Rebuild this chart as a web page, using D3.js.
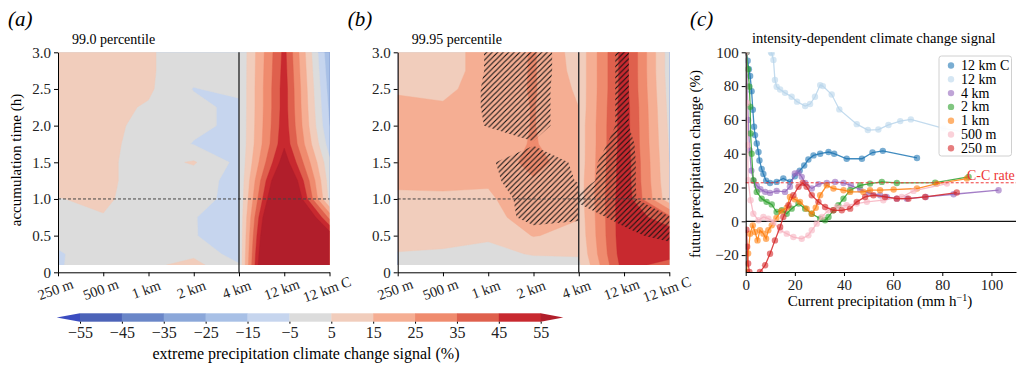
<!DOCTYPE html>
<html>
<head>
<meta charset="utf-8">
<script src="https://cdn.jsdelivr.net/npm/d3@7"></script>
<style>
  body { margin: 0; background: #fff; }
</style>
</head>
<body>
<svg id="fig" width="1029" height="365"></svg>
<script>
// ---------------------------------------------------------------
// data
// ---------------------------------------------------------------
var resolutions = ["250 m", "500 m", "1 km", "2 km", "4 km", "12 km", "12 km C"];
var accTimes = [0.1, 0.25, 0.5, 0.75, 1.0, 1.25, 1.5, 1.75, 2.0, 2.25, 2.5, 2.75, 3.0];
var timeTicks = [0, 0.5, 1.0, 1.5, 2.0, 2.5, 3.0];
var levels = [-55, -45, -35, -25, -15, -5, 5, 15, 25, 35, 45, 55];
var levelColors = ["#3b4cc0", "#4c63b8", "#6a86c8", "#8ba7d9", "#a8c0e6", "#c6d5ee", "#dcdcdc",
                   "#f1cdbc", "#f5ae93", "#ef8b6e", "#df604d", "#c8292f", "#b11e2b"];

// rows: accumulation time 0.1 -> 3.0, columns 250 m .. 4 km
var signalA_left = [
  [-6, 1, 3, 8, -4],
  [-6, 0, 2, 3, -10],
  [-2, 2, 1, -4.3, -12],
  [3, 4.7, 1, -4.5, -11],
  [4.8, 6, 2, 0, -10],
  [7, 7, 1, 0, -9],
  [8, 7, 1, 6, -8],
  [8, 7, 2, -5.5, -7],
  [8, 8, 2, -3, -7],
  [8, 8, 4, -2, -8],
  [8, 8, 6.5, -5.5, -2],
  [8, 8, 6, 0, 0],
  [8, 8, 6, 0, 0]
];
// columns 4 km, 12 km, 12 km C
var signalA_right = [
  [-4, 135, 70],
  [-4, 130, 68],
  [-4, 120, 62],
  [-4, 108, 32],
  [-4, 90, 2],
  [-4, 78, 0],
  [-4, 62, -3],
  [-4, 53, -10],
  [-4, 51, -15],
  [-4, 50, -17],
  [-4, 50, -19],
  [-4, 49, -21],
  [-4, 48, -23]
];
var signalB_left = [
  [2, 2, 2, 2, 2],
  [4.6, 4, 3, 5.5, 6],
  [8, 7.5, 6, 15.5, 12],
  [11, 11, 10, 22, 15.5],
  [13, 13.5, 13, 24, 17],
  [17, 17, 16.5, 24, 18],
  [19, 19, 17, 29, 18],
  [19, 19, 19, 26, 17],
  [19, 19, 19, 25.5, 16],
  [17, 16, 19, 25.5, 15],
  [14, 13, 19, 26, 13],
  [12, 12, 18, 26, 11],
  [11, 12, 18, 26, 10]
];
var signalB_right = [
  [3, 50, 40],
  [6, 52, 50],
  [8, 53, 52],
  [9, 53, 38],
  [10, 53, 8],
  [10, 52, 6],
  [9, 52, 5],
  [9, 51, 4],
  [9, 51, 3],
  [8, 51, 2],
  [8, 50, 1],
  [8, 50, 0],
  [8, 50, 0]
];
// significance (hatched where > 0.5), panel b only
var signifB_left = [
  [0, 0, 0, 0, 0],
  [0, 0, 0, 0, 0],
  [0, 0, 0, 0.1, 0.1],
  [0, 0, 0, 0.8, 0.6],
  [0, 0, 0, 0.9, 0.8],
  [0, 0, 0.3, 1, 0.45],
  [0, 0, 0.4, 1, 0.35],
  [0, 0, 0, 0.45, 0],
  [0, 0, 0.55, 0.8, 0],
  [0, 0, 0.6, 0.8, 0],
  [0, 0, 0.6, 0.8, 0],
  [0, 0, 0.55, 0.85, 0],
  [0, 0, 0.55, 0.85, 0]
];
var signifB_right = [
  [0, 0, 0],
  [0, 0, 0],
  [0, 0.3, 0.75],
  [0.2, 0.7, 0.55],
  [0.6, 0.8, -0.3],
  [0.3, 0.85, -0.5],
  [0.25, 0.85, -0.5],
  [0, 0.8, -0.5],
  [0, 0.62, -0.5],
  [0, 0.62, -0.5],
  [0, 0.62, -0.5],
  [0, 0.62, -0.5],
  [0, 0.62, -0.5]
];

// panel c: [current precipitation, future change %]
var names = ["12 km C", "12 km", "4 km", "2 km", "1 km", "500 m", "250 m"];
var seriesColors = ["#1f77b4", "#b9d5eb", "#9467bd", "#2ca02c", "#ff7f0e", "#f7b3c0", "#d62728"];
var s12kmC = [[0.3,100],[0.8,95],[1.3,90],[1.8,86],[2.4,77],[2.9,66],[3.4,56],[3.8,51],[4.5,46],[5.2,41],[5.6,36],[6.5,31],[7.2,28],[8.3,24],[9.9,22.7],[12.6,23.3],[15.3,25.3],[18,23.3],[20,26.7],[22,30],[23.8,33],[25.5,36.6],[27.6,39],[30.3,40],[33.7,41],[36,40],[41.1,37],[47.3,37],[51.6,40.7],[55.8,41.7],[69.7,37.5]];
var s12km = [[10.3,100],[10.6,99.4],[11.3,95.5],[11.9,83.6],[12.6,79.6],[14,78],[16,76],[18.7,73.7],[20.9,70.8],[24.2,68.2],[26.2,69.4],[28.2,73.7],[30.3,80.6],[31.4,80],[35,75],[38.1,66.2],[45.2,57.5],[49.7,54],[54,54.3],[58.1,57],[62.9,59.3],[67.2,60.3],[80.5,55],[92,52]];
var s4km = [[0.3,100],[0.6,80],[1,60],[1.6,42],[2.3,30],[3.2,24],[4.5,21],[6,19],[7.9,17.4],[9.9,16.8],[12.6,18],[16,17.4],[18,20.4],[20,28.3],[21.5,28.8],[22.8,26.3],[24.2,22.7],[26.9,19.4],[29.6,22],[33,22.7],[36.4,23.3],[39.8,22.7],[42.8,21.3],[46.6,18.8],[50,16.8],[54.7,15.4],[57.4,14.4],[61.5,13.4],[65.6,13.4],[73.3,14.4],[84.6,16],[102.9,18.4]];
var s2km = [[0.3,100],[0.9,90],[1.5,79.6],[1.8,67.8],[2,52],[2.4,40],[3.1,24.3],[4.5,17.4],[6.5,13.4],[8.5,11.5],[10.6,10],[12.6,5.5],[14.7,6.5],[16.7,4.5],[18.7,7.5],[21.5,10.5],[24.2,7.5],[26.9,4.5],[30.3,1.6],[32.3,0.6],[33.7,2.6],[35.7,6.5],[37.7,9.5],[39.8,13.4],[42.5,18.4],[46.6,21.3],[50.6,22.3],[55.4,23.3],[61.5,22.7],[77.1,22.9],[90.7,26.3]];
var s1km = [[0.4,-30],[1,-19],[1.8,-7.3],[2.9,-2.4],[3.8,-6.3],[4.8,-11.3],[5.8,-5.3],[7.2,-7.3],[8.3,-10.3],[9.2,-5.3],[10.6,-2.4],[12.5,2],[14.5,6],[16.7,8],[18,14.4],[20,13],[22.1,11.5],[24.8,7.5],[26.9,4.5],[28.5,8],[30.3,15.4],[33,21.3],[35.7,19.4],[39.8,18.4],[42.5,17.4],[47.9,17.4],[50.6,18.4],[54.7,18.4],[60.2,18.8],[69.7,19.4],[77.8,22.3],[90,25.3]];
var s500m = [[0.3,100],[0.5,70],[0.8,45],[1,24.3],[2,12.5],[3.1,4.5],[5.2,0.6],[7.2,2.6],[9.2,1.6],[11.3,-0.4],[14,-5.3],[16.7,-7.3],[19.4,-9.3],[22.8,-10.3],[25.5,-8.3],[26.9,-5.3],[28.9,-1.4],[31,2.6],[33.7,6.5],[37.1,8.5],[41.1,9.5],[45.2,10.5],[49.3,11.5],[56,12.5],[63.5,14.4],[68.3,18],[81.9,22.3]];
var s250m = [[0.3,-5],[0.6,-15],[1,-25],[1.5,-30],[2.5,-35],[5,-35],[5.8,-30],[7.9,-26],[9.9,-19.2],[11.9,-11.3],[14,-3.4],[15.3,2.6],[17.4,9.5],[19.4,15.4],[21.5,20.4],[23.2,22.7],[24.8,20.4],[26.9,15.4],[29.6,11.5],[32.3,8.5],[35.7,6.5],[39.1,6.5],[42.5,7.5],[45.2,11.5],[48.6,14.4],[52,15.4],[56.7,14.4],[61.5,13.4],[66.2,13.4],[73,14.4],[85.9,17]];
var allSeries = [s12kmC, s12km, s4km, s2km, s1km, s500m, s250m];
var ccRate = 22.8;
var precipTicks = [0, 20, 40, 60, 80, 100];
var changeTicks = [-20, 0, 20, 40, 60, 80, 100];

// ---------------------------------------------------------------
var FONT = "'Liberation Serif', 'Times New Roman', 'DejaVu Serif', serif";
var svg = d3.select("#fig");
var defs = svg.append("defs");

// hatch for significant areas
defs.append("pattern")
  .attr("id", "hatch")
  .attr("patternUnits", "userSpaceOnUse")
  .attr("width", 5.5).attr("height", 5.5)
  .append("path")
  .attr("d", "M-1,1 l2,-2 M0,5.5 l5.5,-5.5 M4.5,6.5 l2,-2")
  .attr("stroke", "#111").attr("stroke-width", 1.1);

var yTime = d3.scaleLinear().domain([0, 3]).range([272.3, 52.3]);
var rowToTime = d3.scaleLinear().domain(d3.range(accTimes.length)).range(accTimes);

function styleAxis(ax, size) {
  ax.attr("font-size", size || 14);
  ax.selectAll("text").style("fill", "#222");
}

// filled contours of one sub grid, starting at column col0
function drawGrid(g, x, grid, col0, signif, id) {
  var n = grid[0].length, m = grid.length;
  var flat = [].concat.apply([], grid);
  var clipId = "clip-" + id;
  defs.append("clipPath").attr("id", clipId)
    .append("rect")
    .attr("x", x(col0)).attr("width", x(col0 + n - 1) - x(col0))
    .attr("y", yTime(accTimes[m - 1]))
    .attr("height", yTime(accTimes[0]) - yTime(accTimes[m - 1]));

  var path = d3.geoPath(d3.geoTransform({
    point: function(gx, gy) {
      this.stream.point(x(col0 + gx - 0.5), yTime(rowToTime(gy - 0.5)));
    }
  }));

  var layer = g.append("g").attr("clip-path", "url(#" + clipId + ")");
  layer.append("rect")
    .attr("x", x(col0)).attr("width", x(col0 + n - 1) - x(col0))
    .attr("y", yTime(3)).attr("height", yTime(0) - yTime(3))
    .attr("fill", levelColors[0]);

  var bands = d3.contours().size([n, m]).thresholds(levels)(flat);
  layer.selectAll("path.band")
    .data(bands)
    .enter()
    .append("path")
    .attr("class", "band")
    .attr("d", path)
    .attr("fill", function(d, i) { return levelColors[i + 1]; })
    .attr("stroke", function(d, i) { return levelColors[i + 1]; })
    .attr("stroke-width", 0.4);

  if (signif) {
    var sig = d3.contours().size([n, m]).thresholds([0.5])([].concat.apply([], signif));
    layer.selectAll("path.hatch")
      .data(sig)
      .enter()
      .append("path")
      .attr("class", "hatch")
      .attr("d", path)
      .attr("fill", "url(#hatch)");
  }
}

function drawContourPanel(x0, x1, left, right, sigLeft, sigRight, letter, title, id) {
  var g = svg.append("g");
  var x = d3.scaleLinear().domain([0, resolutions.length - 1]).range([x0, x1]);

  drawGrid(g, x, left, 0, sigLeft, id + "L");
  drawGrid(g, x, right, 4, sigRight, id + "R");

  // 1 h reference and the 4 km divider
  g.append("line")
    .attr("x1", x0).attr("x2", x1)
    .attr("y1", yTime(1)).attr("y2", yTime(1))
    .attr("stroke", "#444").attr("stroke-width", 1)
    .attr("stroke-dasharray", "3,2");
  g.append("line")
    .attr("x1", x(4)).attr("x2", x(4))
    .attr("y1", yTime(0)).attr("y2", yTime(3))
    .attr("stroke", "#111").attr("stroke-width", 1.2);

  var xa = g.append("g")
    .attr("transform", "translate(0," + yTime(0) + ")")
    .call(d3.axisBottom(x).tickValues(d3.range(resolutions.length))
      .tickFormat(function(i) { return resolutions[i]; })
      .tickSize(4).tickSizeOuter(0));
  styleAxis(xa, 14.5);
  xa.selectAll("text")
    .attr("y", null).attr("dy", "0.35em")
    .attr("transform", "translate(-3,17) rotate(-20)")
    .style("text-anchor", "middle");

  var ya = g.append("g")
    .attr("transform", "translate(" + x0 + ",0)")
    .call(d3.axisLeft(yTime).tickValues(timeTicks)
      .tickFormat(function(d) { return d === 0 ? "0" : d.toFixed(1); })
      .tickSize(4).tickSizeOuter(0));
  styleAxis(ya, 15);

  g.append("text").attr("x", x0 - 50).attr("y", 26)
    .attr("font-size", 21).attr("font-style", "italic").text(letter);
  g.append("text").attr("x", x0 + 14).attr("y", 44)
    .attr("font-size", 14).text(title);
}

drawContourPanel(58, 329.5, signalA_left, signalA_right, null, null, "(a)", "99.0 percentile", "a");
drawContourPanel(397.7, 669.3, signalB_left, signalB_right, signifB_left, signifB_right, "(b)", "99.95 percentile", "b");

svg.append("text")
  .attr("transform", "translate(21,160) rotate(-90)")
  .attr("text-anchor", "middle").attr("font-size", 15)
  .text("accumulation time (h)");

// ---------------------------------------------------------------
// colour bar
// ---------------------------------------------------------------
var cb = svg.append("g");
var cbx = d3.scaleLinear().domain([-55, 55]).range([80, 540.7]);
var cbTop = 313.3, cbBot = 321.7;
cb.selectAll("rect")
  .data(d3.range(levels.length - 1))
  .enter()
  .append("rect")
  .attr("x", function(i) { return cbx(levels[i]); })
  .attr("width", function(i) { return cbx(levels[i + 1]) - cbx(levels[i]) + 0.3; })
  .attr("y", cbTop).attr("height", cbBot - cbTop)
  .attr("fill", function(i) { return levelColors[i + 1]; });
cb.append("path")
  .attr("d", "M" + cbx(-55) + "," + cbTop + "L56.7," + (cbTop + cbBot) / 2 + "L" + cbx(-55) + "," + cbBot + "Z")
  .attr("fill", levelColors[0]);
cb.append("path")
  .attr("d", "M" + cbx(55) + "," + cbTop + "L563.3," + (cbTop + cbBot) / 2 + "L" + cbx(55) + "," + cbBot + "Z")
  .attr("fill", levelColors[levelColors.length - 1]);
var cba = cb.append("g")
  .attr("transform", "translate(0," + cbBot + ")")
  .call(d3.axisBottom(cbx).tickValues(levels).tickSize(2).tickSizeOuter(0));
styleAxis(cba, 16);
cba.select(".domain").remove();
cb.append("text")
  .attr("x", 306).attr("y", 359)
  .attr("text-anchor", "middle").attr("font-size", 16)
  .text("extreme precipitation climate change signal (%)");

// ---------------------------------------------------------------
// panel c
// ---------------------------------------------------------------
var gc = svg.append("g");
var xc = d3.scaleLinear().domain([0, 110]).range([745.7, 1016]);
var yc = d3.scaleLinear().domain([-30, 100]).range([272, 52.3]);

defs.append("clipPath").attr("id", "clip-c")
  .append("rect")
  .attr("x", xc(0)).attr("y", yc(100))
  .attr("width", xc(110) - xc(0)).attr("height", yc(-30) - yc(100));

gc.append("line")
  .attr("x1", xc(0)).attr("x2", xc(110))
  .attr("y1", yc(0)).attr("y2", yc(0))
  .attr("stroke", "#111").attr("stroke-width", 1.2);

var plot = gc.append("g").attr("clip-path", "url(#clip-c)");
var line = d3.line()
  .x(function(d) { return xc(d[0]); })
  .y(function(d) { return yc(d[1]); });

allSeries.forEach(function(s, k) {
  plot.append("path")
    .attr("d", line(s))
    .attr("fill", "none")
    .attr("stroke", seriesColors[k])
    .attr("stroke-width", 1.3)
    .attr("stroke-opacity", 0.85);
  plot.selectAll("circle.s" + k)
    .data(s)
    .enter()
    .append("circle")
    .attr("class", "s" + k)
    .attr("cx", function(d) { return xc(d[0]); })
    .attr("cy", function(d) { return yc(d[1]); })
    .attr("r", 3.2)
    .attr("fill", seriesColors[k])
    .attr("fill-opacity", 0.6);
});

// Clausius-Clapeyron rate
gc.append("line")
  .attr("x1", xc(0)).attr("x2", xc(110))
  .attr("y1", yc(ccRate)).attr("y2", yc(ccRate))
  .attr("stroke", "#f03a3a").attr("stroke-width", 1)
  .attr("stroke-dasharray", "3,2");
gc.append("text")
  .attr("x", 967).attr("y", yc(ccRate) - 3)
  .attr("font-size", 14).attr("fill", "#ee3535")
  .text("C-C rate");

var xca = gc.append("g")
  .attr("transform", "translate(0," + yc(-30) + ")")
  .call(d3.axisBottom(xc).tickValues(precipTicks).tickSize(4).tickSizeOuter(0));
styleAxis(xca, 15);
var yca = gc.append("g")
  .attr("transform", "translate(" + xc(0) + ",0)")
  .call(d3.axisLeft(yc).tickValues(changeTicks).tickSize(4).tickSizeOuter(0));
styleAxis(yca, 15);

gc.append("text").attr("x", 690).attr("y", 26)
  .attr("font-size", 21).attr("font-style", "italic").text("(c)");
gc.append("text").attr("x", 752).attr("y", 43)
  .attr("font-size", 14.5).text("intensity-dependent climate change signal");
gc.append("text")
  .attr("transform", "translate(700,164) rotate(-90)")
  .attr("text-anchor", "middle").attr("font-size", 15)
  .text("future precipitation change (%)");
var xl = gc.append("text")
  .attr("x", 880).attr("y", 306)
  .attr("text-anchor", "middle").attr("font-size", 15);
xl.append("tspan").text("Current precipitation (mm h");
xl.append("tspan").attr("dy", -5).attr("font-size", 10).text("\u22121");
xl.append("tspan").attr("dy", 5).text(")");

// legend
var lg = gc.append("g").attr("transform", "translate(939,56)");
lg.append("rect")
  .attr("width", 72.5).attr("height", 100)
  .attr("rx", 2.5)
  .attr("fill", "#fff").attr("fill-opacity", 0.9)
  .attr("stroke", "#d0d0d0").attr("stroke-width", 1);
names.forEach(function(nm, k) {
  var yy = 9.5 + k * 13.8;
  lg.append("circle").attr("cx", 12).attr("cy", yy).attr("r", 3.2)
    .attr("fill", seriesColors[k]).attr("fill-opacity", 0.6);
  lg.append("text").attr("x", 22).attr("y", yy + 4.5)
    .attr("font-size", 14).text(nm);
});

// one serif face for every label
svg.selectAll("text").style("font-family", FONT);
svg.selectAll("g").attr("font-family", null);
</script>
</body>
</html>
